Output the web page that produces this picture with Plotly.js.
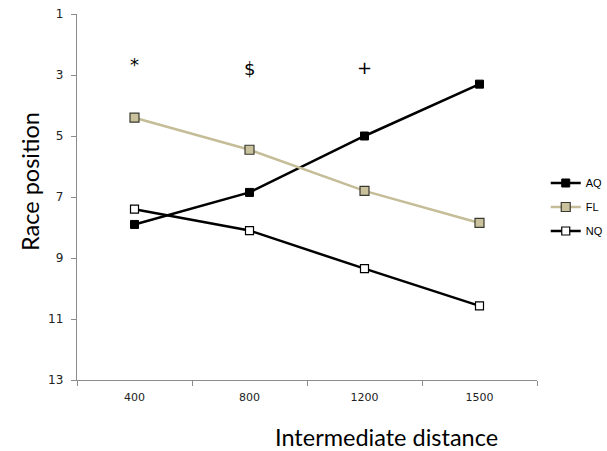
<!DOCTYPE html>
<html>
<head>
<meta charset="utf-8">
<script src="https://cdn.plot.ly/plotly-3.0.1.min.js"></script>
<style>html,body{margin:0;padding:0;background:#fff;}#chart{width:607px;height:451px;}</style>
</head>
<body>
<div id="chart"></div>
<script>
const distances = ["400", "800", "1200", "1500"];
const aq = [7.9, 6.85, 5.0, 3.3];
const fl = [4.4, 5.45, 6.8, 7.85];
const nq = [7.4, 8.1, 9.35, 10.57];
const seriesNames = ["AQ", "FL", "NQ"];
const markLabels = ["*", "$", "+"];
const markX = ["400", "800", "1200"];
const markY = [2.65, 2.8, 2.75];
const yTicks = [1, 3, 5, 7, 9, 11, 13];

const traces = [
  {x: distances, y: aq, name: seriesNames[0], legendgroup: "a", type: "scatter", mode: "lines+markers",
   line: {color: "#000000", width: 2.5},
   marker: {symbol: "square", size: 8, color: "#000000", line: {color: "#000000", width: 1}}},
  {x: distances, y: fl, name: seriesNames[1], legendgroup: "b", type: "scatter", mode: "lines+markers",
   line: {color: "#c4bd97", width: 2.5},
   marker: {symbol: "square", size: 9, color: "#c9c29d", line: {color: "#3a3a30", width: 1.2}}},
  {x: distances, y: nq, name: seriesNames[2], legendgroup: "c", type: "scatter", mode: "lines+markers",
   line: {color: "#000000", width: 2.5},
   marker: {symbol: "square", size: 8, color: "#ffffff", line: {color: "#000000", width: 1.2}}}
];

const margin = {l: 77, r: 70, t: 14, b: 71, pad: 0, autoexpand: false};
const pw = 607 - margin.l - margin.r;
const ph = 451 - margin.t - margin.b;

const annotations = markLabels.map((t, i) => ({
  x: distances.indexOf(markX[i]), y: markY[i], xref: "x", yref: "y", text: t, showarrow: false,
  xanchor: "center", yanchor: "middle",
  font: {family: "'DejaVu Sans', sans-serif", size: 18, color: "#000"}
}));
annotations.push({
  x: (386 - margin.l) / pw, y: (451 - 437 - margin.b) / ph, xref: "paper", yref: "paper",
  xanchor: "center", yanchor: "middle",
  text: "Intermediate distance", showarrow: false,
  font: {family: "Lato, 'Open Sans', sans-serif", size: 23.5, color: "#000"}
});
annotations.push({
  x: (30 - margin.l) / pw, y: (451 - 182 - margin.b) / ph, xref: "paper", yref: "paper",
  xanchor: "center", yanchor: "middle",
  text: "Race position", textangle: -90, showarrow: false,
  font: {family: "Lato, 'Open Sans', sans-serif", size: 23.5, color: "#000"}
});

const layout = {
  width: 607, height: 451,
  margin: margin,
  paper_bgcolor: "#ffffff", plot_bgcolor: "#ffffff",
  showlegend: true,
  legend: {x: 1.019, y: (380 - 207) / ph, xanchor: "left", yanchor: "middle",
    font: {family: "'Liberation Sans', Arial, sans-serif", size: 11, color: "#000"},
    tracegroupgap: 5, itemwidth: 30, bgcolor: "rgba(0,0,0,0)"},
  xaxis: {type: "category", range: [-0.5, 3.5], showgrid: false, zeroline: false,
    showline: true, linecolor: "#8c8c8c", linewidth: 1.2,
    ticks: "outside", tickson: "boundaries", ticklen: 5, tickcolor: "#8c8c8c",
    ticklabelstandoff: 7,
    tickfont: {family: "'DejaVu Sans', Verdana, sans-serif", size: 11, color: "#222"}},
  yaxis: {range: [13, 1], showgrid: false, zeroline: false,
    showline: true, linecolor: "#8c8c8c", linewidth: 1.2,
    tickmode: "array", tickvals: yTicks, ticktext: yTicks.map(String),
    ticks: "outside", ticklen: 5, tickcolor: "#8c8c8c",
    ticklabelstandoff: 5,
    tickfont: {family: "'DejaVu Sans', Verdana, sans-serif", size: 12, color: "#222"}},
  annotations: annotations
};
Plotly.newPlot("chart", traces, layout, {displayModeBar: false, staticPlot: true});
</script>
</body>
</html>
